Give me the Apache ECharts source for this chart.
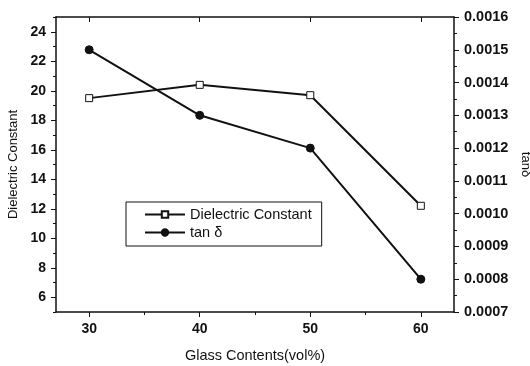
<!DOCTYPE html>
<html>
<head>
<meta charset="utf-8">
<script src="https://cdn.jsdelivr.net/npm/echarts@6/dist/echarts.min.js"></script>
<style>
  html, body { margin: 0; padding: 0; background: #fff; }
  #chart { width: 530px; height: 366px; }
</style>
</head>
<body>
<div id="chart"></div>
<script>
// glass content (vol%)
let glass = [30, 40, 50, 60];
let dielectric = [19.5, 20.4, 19.7, 12.2];
let tanDelta = [0.0015, 0.0013, 0.0012, 0.0008];

let xLabels = [30, 40, 50, 60];
let xMinor = [35, 45, 55];
let yLabels = [6, 8, 10, 12, 14, 16, 18, 20, 22, 24];
let yMinor = [5, 7, 9, 11, 13, 15, 17, 19, 21, 23, 25];

let font = 'Liberation Sans, Arial, sans-serif';
let black = '#111';

let chart = echarts.init(document.getElementById('chart'));

let pairs = function (ys) {
    return glass.map((g, i) => [g, ys[i]]);
};

let option = {
    animation: false,
    backgroundColor: '#fff',
    textStyle: { fontFamily: font, color: black },
    grid: { left: 56, right: 76, top: 17, bottom: 54, containLabel: false, outerBoundsMode: 'none' },
    legend: {
        orient: 'vertical',
        left: 126,
        top: 202,
        itemWidth: 40,
        itemHeight: 8,
        itemGap: 3,
        padding: [5, 10, 6, 18],
        borderColor: black,
        borderWidth: 1,
        textStyle: { fontFamily: font, fontSize: 14.5, color: black },
        data: ['Dielectric Constant', 'tan δ']
    },
    xAxis: [
        {
            type: 'value', position: 'bottom', min: 27, max: 63,
            name: 'Glass Contents(vol%)', nameLocation: 'middle', nameGap: 36,
            nameTextStyle: { fontSize: 14.5, color: black },
            axisLine: { lineStyle: { color: black, width: 1.5 } },
            axisTick: { customValues: xLabels, length: 5, lineStyle: { color: black } },
            axisLabel: { customValues: xLabels, fontSize: 14, fontWeight: 'bold', color: black, margin: 10 },
            splitLine: { show: false }
        },
        {
            type: 'value', position: 'bottom', min: 27, max: 63,
            axisLine: { show: false },
            axisTick: { customValues: xMinor, length: 3, lineStyle: { color: black } },
            axisLabel: { show: false },
            splitLine: { show: false }
        },
        {
            type: 'value', position: 'top', min: 27, max: 63,
            axisLine: { lineStyle: { color: black, width: 1.5 } },
            axisTick: { customValues: xLabels, inside: true, length: 5, lineStyle: { color: black } },
            axisLabel: { show: false },
            splitLine: { show: false }
        }
    ],
    yAxis: [
        {
            type: 'value', position: 'left', min: 5, max: 25,
            name: 'Dielectric Constant', nameLocation: 'middle', nameGap: 35,
            nameTextStyle: { fontSize: 13, color: black },
            axisLine: { show: true, lineStyle: { color: black, width: 1.5 } },
            axisTick: { customValues: yLabels, length: 5, lineStyle: { color: black } },
            axisLabel: { customValues: yLabels, fontSize: 14, fontWeight: 'bold', color: black, margin: 10 },
            splitLine: { show: false }
        },
        {
            type: 'value', position: 'right', min: 0.0007, max: 0.0016, interval: 0.0001,
            name: 'tanδ', nameLocation: 'middle', nameGap: 62, nameRotate: -90,
            nameTextStyle: { fontSize: 13, color: black },
            axisLine: { show: true, lineStyle: { color: black, width: 1.5 } },
            axisTick: { length: 5, lineStyle: { color: black } },
            minorTick: { show: true, splitNumber: 2, length: 3, lineStyle: { color: black } },
            axisLabel: {
                fontSize: 14.5, fontWeight: 'bold', color: black, margin: 10,
                formatter: v => v.toFixed(4)
            },
            splitLine: { show: false }
        },
        {
            type: 'value', position: 'left', min: 5, max: 25,
            axisLine: { show: false },
            axisTick: { customValues: yMinor, length: 3, lineStyle: { color: black } },
            axisLabel: { show: false },
            splitLine: { show: false }
        }
    ],
    series: [
        {
            name: 'Dielectric Constant', type: 'line',
            xAxisIndex: 0, yAxisIndex: 0,
            data: pairs(dielectric),
            symbol: 'rect', symbolSize: 7,
            lineStyle: { color: black, width: 2 },
            itemStyle: { color: '#fff', borderColor: black, borderWidth: 1 }
        },
        {
            name: 'tan δ', type: 'line',
            xAxisIndex: 0, yAxisIndex: 1,
            data: pairs(tanDelta),
            symbol: 'circle', symbolSize: 8,
            lineStyle: { color: black, width: 2 },
            itemStyle: { color: black, borderColor: black, borderWidth: 1 }
        }
    ]
};

chart.setOption(option);
</script>
</body>
</html>
